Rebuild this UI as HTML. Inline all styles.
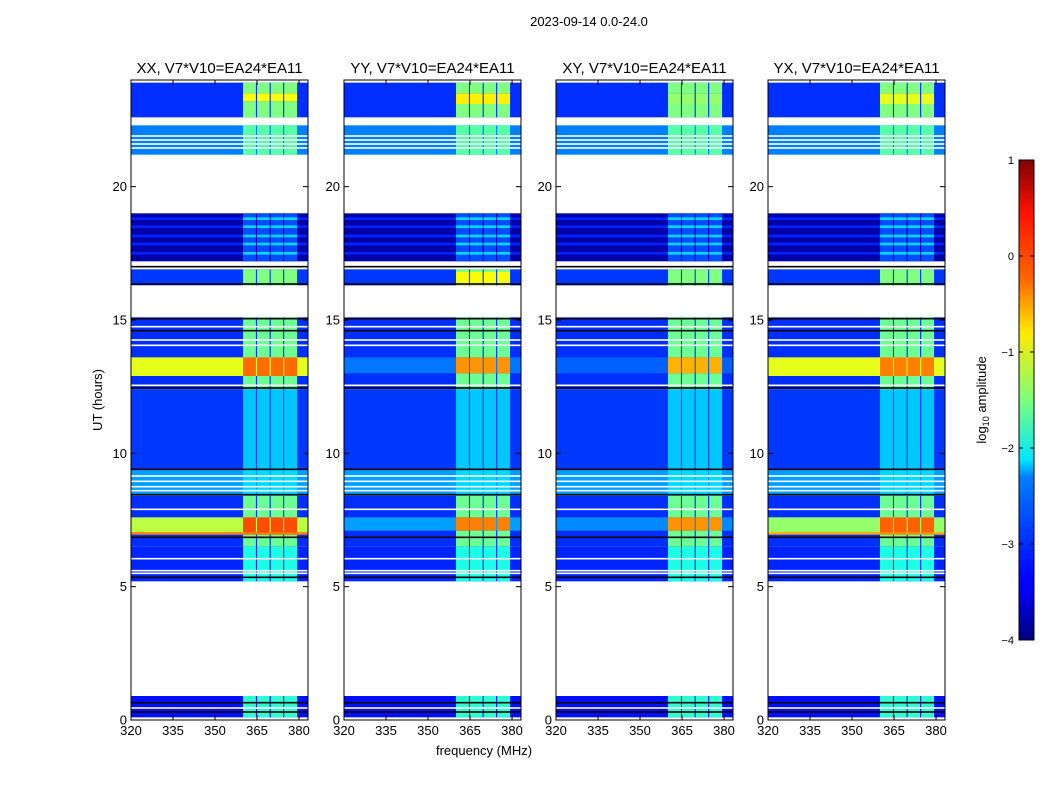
<!DOCTYPE html>
<html><head><meta charset="utf-8">
<style>
body{margin:0;background:#fff;}
svg{display:block;font-family:"Liberation Sans",sans-serif;}
</style></head>
<body>
<svg id="fig" width="1050" height="800" viewBox="0 0 1050 800" xmlns="http://www.w3.org/2000/svg">
<text x="589" y="26" font-size="13" text-anchor="middle">2023-09-14 0.0-24.0</text>
<text transform="translate(102,400) rotate(-90)" font-size="13" text-anchor="middle">UT (hours)</text>
<text x="484" y="755" font-size="13" text-anchor="middle">frequency (MHz)</text>
<defs>
<linearGradient id="jet" x1="0" y1="1" x2="0" y2="0">
<stop offset="0" stop-color="#00007f"/><stop offset="0.11" stop-color="#0000ff"/>
<stop offset="0.125" stop-color="#0000ff"/><stop offset="0.34" stop-color="#0080ff"/>
<stop offset="0.375" stop-color="#00e5ff"/><stop offset="0.5" stop-color="#7dff7a"/>
<stop offset="0.64" stop-color="#ffea00"/><stop offset="0.75" stop-color="#ff6800"/>
<stop offset="0.89" stop-color="#ff1200"/><stop offset="1" stop-color="#7f0000"/>
</linearGradient>
</defs>
<g id="panels"></g>
<g id="cbar">
<rect x="1019" y="160" width="15" height="480" fill="url(#jet)" stroke="#000"/>
<text transform="translate(986,400) rotate(-90)" font-size="13" text-anchor="middle">log<tspan font-size="9" dy="3">10</tspan><tspan dy="-3"> amplitude</tspan></text>
</g>
</svg>
<script>
const NS="http://www.w3.org/2000/svg";
// ---- data ----
const panelTitles=["XX, V7*V10=EA24*EA11","YY, V7*V10=EA24*EA11","XY, V7*V10=EA24*EA11","YX, V7*V10=EA24*EA11"];
const yTicks=[0,5,10,15,20];
const xTicks=[320,335,350,365,380];
const cbarTicks=[1,0,-1,-2,-3,-4];
// time segments
const segStart=[0.1,5.2,6.5,8.4,9.4,12.4,16.3,17.2,21.2,22.6];
const segEnd  =[0.9,6.5,8.4,9.4,12.4,15.1,16.9,19.0,22.3,23.9];
const segBg   =[-3.3,-3.2,-3.15,-2.6,-3.1,-3.15,-3.1,-3.8,-2.75,-3.15];
const segBand =[-1.9,-2.0,-1.6,-2.3,-2.4,-1.6,-1.5,-3.0,-1.7,-1.5];
// RFI band edges (MHz)
const bandLo=[360.0,365.0,369.9,374.7];
const bandHi=[364.6,369.5,374.3,379.3];
// strong rows per panel: [start,end,bgLog,bandLog]
const strongRows=[
 [[12.9,13.6,-1.0,-0.15],[7.0,7.6,-1.2,0.0],[6.95,7.05,-0.3,-0.2],[23.2,23.5,-3.15,-0.9]],
 [[13.0,13.6,-2.8,-0.35],[7.1,7.6,-2.6,-0.25],[16.3,16.8,-3.1,-0.9],[23.1,23.5,-3.15,-0.8]],
 [[13.0,13.6,-2.9,-0.5],[7.1,7.6,-2.7,-0.35],[16.3,16.8,-3.1,-1.5],[23.1,23.5,-3.15,-1.4]],
 [[12.9,13.6,-1.0,-0.25],[7.0,7.6,-1.4,-0.1],[6.95,7.05,-0.5,-0.3],[23.1,23.5,-3.15,-1.0]]
];
const whiteLines=[22.35,21.9,21.75,21.6,21.45,17.05,14.75,14.25,14.05,12.55,9.15,8.95,8.75,8.6,7.9,6.05,5.6,5.5,0.45];
const blackLines=[15.05,14.6,12.45,9.4,8.45,6.85,5.35,0.65,0.3,17.0,16.35];
const darkBlueRows=[17.45,17.8,18.1,18.45,18.75];
// ---- helpers ----
const panelLeft=[131,344,556,768], pW=177, pTop=80, pH=640;
const fMin=320, fMax=383.2, tMin=0, tMax=24;
function jet(v){
  let t=Math.max(0,Math.min(1,(v+4)/5));
  const f=(a)=>Math.max(0,Math.min(1,1.5-Math.abs(4*t-a)));
  const r=f(3),g=f(2),b=f(1);
  return `rgb(${Math.round(r*255)},${Math.round(g*255)},${Math.round(b*255)})`;
}
function rect(g,x,y,w,h,fill,name){
  const r=document.createElementNS(NS,'rect');
  r.setAttribute('x',x);r.setAttribute('y',y);r.setAttribute('width',w);r.setAttribute('height',h);r.setAttribute('fill',fill);
  
  
  g.appendChild(r);return r;
}
function text(g,x,y,s,size,anchor,name){
  const t=document.createElementNS(NS,'text');
  t.setAttribute('x',x);t.setAttribute('y',y);t.setAttribute('font-size',size);t.setAttribute('text-anchor',anchor);
  t.textContent=s;
  
  
  g.appendChild(t);
}
const root=document.getElementById('panels');
panelLeft.forEach((L,p)=>{
  const xs=f=>L+(f-fMin)/(fMax-fMin)*pW;
  const ys=h=>pTop+pH-(h-tMin)/(tMax-tMin)*pH;
  const g=document.createElementNS(NS,'g');
  
  
  root.appendChild(g);
  const drawRow=(h0,h1,bg,band,name)=>{
    const y=ys(h1),h=ys(h0)-ys(h1);
    rect(g,L,y,pW,h,jet(bg),name+'-bg');
    for(let b=0;b<bandLo.length;b++){
      rect(g,xs(bandLo[b]),y,xs(bandHi[b])-xs(bandLo[b]),h,jet(band),name+'-band');
    }
  };
  segStart.forEach((s,i)=>drawRow(s,segEnd[i],segBg[i],segBand[i],'segment'));
  darkBlueRows.forEach(h=>drawRow(h,h+0.1,-3.2,-2.3,'dark-row'));
  strongRows[p].forEach(r=>drawRow(r[0],r[1],r[2],r[3],'strong-row'));
  whiteLines.forEach(h=>rect(g,L,ys(h)-0.8,pW,1.6,'#fff','white-line'));
  blackLines.forEach(h=>rect(g,L,ys(h)-0.8,pW,1.6,'#000','black-line'));
  const fr=rect(g,L,pTop,pW,pH,'none','plot-frame');fr.setAttribute('stroke','#000');fr.setAttribute('stroke-width','1');
  text(g,L+pW/2,73,panelTitles[p],15,'middle','panel-title');
  yTicks.forEach(v=>{
    const y=ys(v);
    rect(g,L,y-0.5,5,1,'#000','y-tick');
    rect(g,L+pW-5,y-0.5,5,1,'#000','y-tick');
    text(g,L-4,y+4.5,String(v),13,'end','y-tick-label');
  });
  xTicks.forEach(v=>{
    const x=xs(v);
    rect(g,x-0.5,pTop+pH-5,1,5,'#000','x-tick');
    rect(g,x-0.5,pTop,1,5,'#000','x-tick');
    text(g,x,pTop+pH+15,String(v),13,'middle','x-tick-label');
  });
});
const cb=document.getElementById('cbar');
cbarTicks.forEach(v=>{
  const y=160+(1-v)/5*480;
  rect(cb,1019,y-0.5,4,1,'#000','colorbar-tick');
  rect(cb,1030,y-0.5,4,1,'#000','colorbar-tick');
  text(cb,1014,y+4,v<0?'\u2212'+(-v):String(v),11,'end','colorbar-tick-label');
});
</script>
</body></html>
